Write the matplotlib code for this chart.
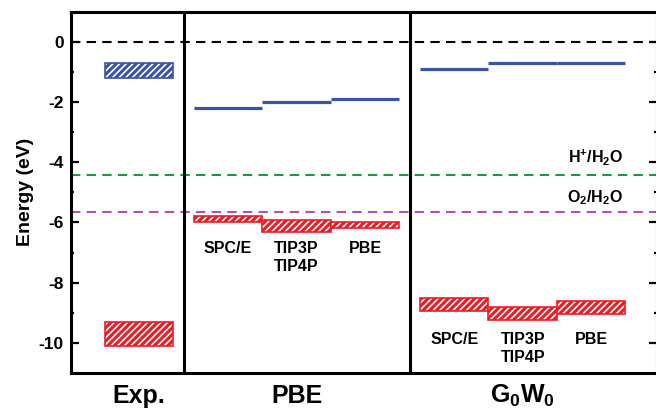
import matplotlib
matplotlib.use("Agg")
import matplotlib.pyplot as plt

#------------------------------------------------------------------------------
#Data (eV)

models = ["SPC/E", "TIP3P\nTIP4P", "PBE"]

exp_cb = [-0.70, -1.20]     # top, bottom of blue box
exp_vb = [-9.30, -10.10]    # top, bottom of red box

pbe_cbm = [-2.20, -2.00, -1.90]
pbe_vbm_top = [-5.80, -5.92, -6.00]
pbe_vbm_bot = [-6.00, -6.32, -6.20]

gw_cbm = [-0.91, -0.71, -0.71]
gw_vbm_top = [-8.50, -8.80, -8.60]
gw_vbm_bot = [-8.93, -9.24, -9.04]

vacuum = 0.0
h_level = -4.44
o_level = -5.67

#------------------------------------------------------------------------------
#Style

plt.rcParams["font.family"] = ["Liberation Sans", "DejaVu Sans"]
plt.rcParams["font.weight"] = "bold"
plt.rcParams["axes.unicode_minus"] = False
plt.rcParams["mathtext.fontset"] = "custom"
plt.rcParams["mathtext.rm"] = "Liberation Sans:bold"
plt.rcParams["mathtext.bf"] = "Liberation Sans:bold"
plt.rcParams["mathtext.it"] = "Liberation Sans:bold"
plt.rcParams["mathtext.default"] = "bf"
plt.rcParams["hatch.linewidth"] = 2.2

blue = "#3a53a4"
red = "#ed1c24"
green = "#169a48"
magenta = "#b94fa7"
hatch = "/////"

fig = plt.figure(figsize=(6.56, 4.12), dpi=100)
ax = fig.add_axes([0.1075, 0.0947, 0.894, 0.877])

exp_x = 1.0
pbe_x = [2.3, 3.3, 4.3]
gw_x = [5.6, 6.6, 7.6]
w = 1.0

# reference levels
ax.axhline(vacuum, color="k", lw=1.5, ls=(0, (4.5, 3)), zorder=1)
ax.axhline(h_level, color=green, lw=1.5, ls=(0, (4.5, 3)), zorder=1)
ax.axhline(o_level, color=magenta, lw=1.5, ls=(0, (4.5, 3)), zorder=1)

# experiment boxes
ax.bar(exp_x, exp_cb[0] - exp_cb[1], bottom=exp_cb[1], width=w,
       facecolor="white", edgecolor=blue, hatch=hatch, lw=1.2, zorder=3)
ax.bar(exp_x, exp_vb[0] - exp_vb[1], bottom=exp_vb[1], width=w,
       facecolor="white", edgecolor=red, hatch=hatch, lw=1.2, zorder=3)

# PBE and G0W0 levels
for i in range(3):
    ax.hlines(pbe_cbm[i], pbe_x[i] - w/2, pbe_x[i] + w/2, color=blue, lw=2.3, zorder=3)
    ax.bar(pbe_x[i], pbe_vbm_top[i] - pbe_vbm_bot[i], bottom=pbe_vbm_bot[i], width=w,
           facecolor="white", edgecolor=red, hatch=hatch, lw=1.2, zorder=3)
    ax.hlines(gw_cbm[i], gw_x[i] - w/2, gw_x[i] + w/2, color=blue, lw=2.3, zorder=3)
    ax.bar(gw_x[i], gw_vbm_top[i] - gw_vbm_bot[i], bottom=gw_vbm_bot[i], width=w,
           facecolor="white", edgecolor=red, hatch=hatch, lw=1.2, zorder=3)

# model labels
for i in range(3):
    ax.text(pbe_x[i], -6.62, models[i], ha="center", va="top", fontsize=11.5,
            fontweight="bold", linespacing=1.25)
    ax.text(gw_x[i], -9.63, models[i], ha="center", va="top", fontsize=11.5,
            fontweight="bold", linespacing=1.25)

ax.text(7.66, -3.84, r"H$^{+}$/H$_2$O", ha="center", va="center", fontsize=11.5)
ax.text(7.66, -5.19, r"O$_2$/H$_2$O", ha="center", va="center", fontsize=11.5)

# panel dividers
ax.axvline(1.65, color="k", lw=2.2, zorder=4)
ax.axvline(4.95, color="k", lw=2.2, zorder=4)

# panel names under the axes
ax.text(exp_x, -11.75, "Exp.", ha="center", va="center", fontsize=18, fontweight="bold")
ax.text(pbe_x[1], -11.75, "PBE", ha="center", va="center", fontsize=18, fontweight="bold")
ax.text(gw_x[1], -11.75, r"$G_0W_0$", ha="center", va="center", fontsize=18)

ax.set_xlim(0, 8.56)
ax.set_ylim(-11, 1)
ax.set_yticks([0, -2, -4, -6, -8, -10])
ax.set_yticks([-1, -3, -5, -7, -9], minor=True)
ax.set_xticks([])
ax.tick_params(axis="y", which="both", direction="in", left=True, right=True,
               width=1.6, labelsize=12.5, pad=5)
ax.tick_params(axis="y", which="major", length=5.5)
ax.tick_params(axis="y", which="minor", length=2.5)
for lab in ax.get_yticklabels():
    lab.set_fontweight("bold")
for s in ax.spines.values():
    s.set_linewidth(2.2)

ax.set_ylabel("Energy (eV)", fontsize=14, fontweight="bold", labelpad=3)

fig.savefig("out.png", dpi=100)
